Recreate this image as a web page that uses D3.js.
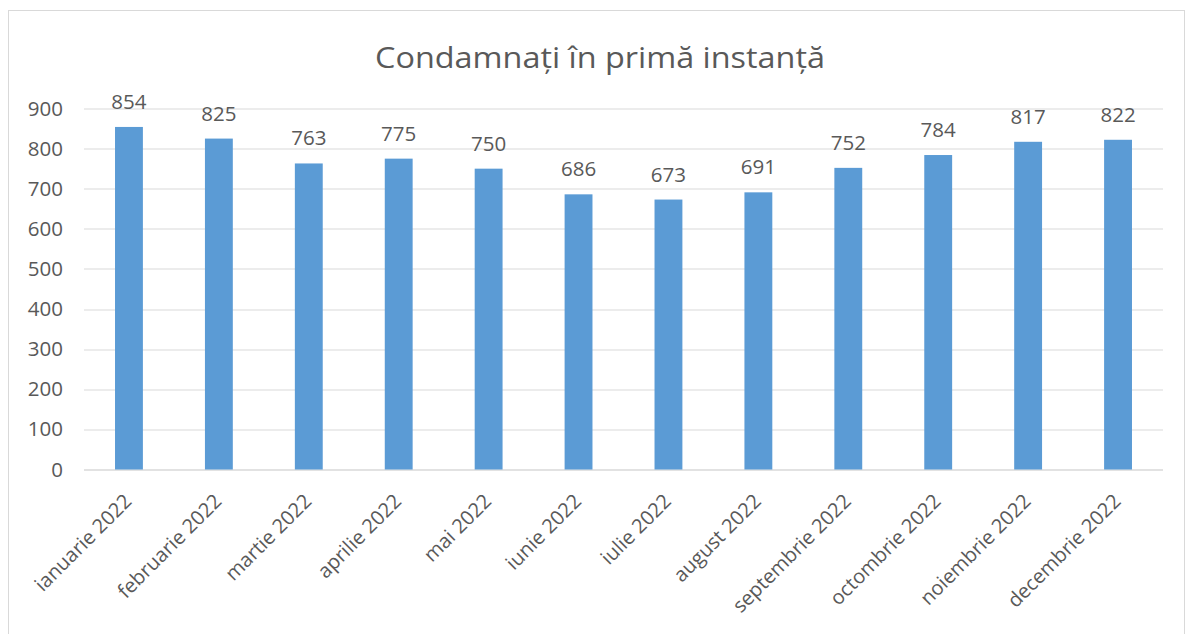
<!DOCTYPE html>
<html>
<head>
<meta charset="utf-8">
<script src="https://cdn.jsdelivr.net/npm/d3@7"></script>
<style>
	body { margin: 0; background: #fff; }
	text { font-family: 'Open Sans', 'Liberation Sans', Arial, sans-serif; fill: #595959; }
</style>
</head>
<body>
<div id="vis"></div>
<script>
var months = ['ianuarie 2022', 'februarie 2022', 'martie 2022', 'aprilie 2022', 'mai 2022', 'iunie 2022',
	'iulie 2022', 'august 2022', 'septembrie 2022', 'octombrie 2022', 'noiembrie 2022', 'decembrie 2022'];
var values = [854, 825, 763, 775, 750, 686, 673, 691, 752, 784, 817, 822];
var yTicks = [0, 100, 200, 300, 400, 500, 600, 700, 800, 900];
var title = 'Condamnați în primă instanță';

var width = 1192,
	height = 634;

var margin = {
	left: 84,
	right: 29,
	top: 108.5,
	bottom: 164.5
};

var drawWidth = width - margin.left - margin.right,
	drawHeight = height - margin.top - margin.bottom;

var svg = d3.select('#vis')
	.append('svg')
	.attr('width', width)
	.attr('height', height);

// chart frame
svg.append('rect')
	.attr('x', 8.5)
	.attr('y', 10.5)
	.attr('width', 1176)
	.attr('height', 640)
	.attr('fill', '#fff')
	.attr('stroke', '#d9d9d9');

svg.append('text')
	.attr('x', 600)
	.attr('y', 68)
	.attr('text-anchor', 'middle')
	.attr('font-size', 29)
	.attr('textLength', 450)
	.attr('lengthAdjust', 'spacingAndGlyphs')
	.text(title);

var g = svg.append('g')
	.attr('transform', 'translate(' + margin.left + ',' + margin.top + ')');

var x = d3.scaleBand()
	.domain(months)
	.range([0, drawWidth])
	.paddingInner(0.69)
	.paddingOuter(0.345);

var y = d3.scaleLinear()
	.domain([0, 900])
	.range([drawHeight, 0]);

// gridlines
g.append('g')
	.selectAll('line')
	.data(yTicks)
	.enter().append('line')
	.attr('x1', 0)
	.attr('x2', drawWidth)
	.attr('y1', function(d) { return Math.round(y(d)) + 0.5; })
	.attr('y2', function(d) { return Math.round(y(d)) + 0.5; })
	.attr('stroke', '#d9d9d9')
	.attr('stroke-width', function(d) { return d === 0 ? 1.5 : 1.2; });

var yAxis = g.append('g')
	.call(d3.axisLeft(y).tickValues(yTicks).tickSize(0).tickPadding(21));
yAxis.select('.domain').remove();
yAxis.selectAll('text')
	.attr('font-size', 20.5)
	.attr('fill', '#595959');

g.append('g')
	.selectAll('rect')
	.data(values)
	.enter().append('rect')
	.attr('x', function(d, i) { return x(months[i]); })
	.attr('y', function(d) { return y(d); })
	.attr('width', x.bandwidth())
	.attr('height', function(d) { return drawHeight - y(d); })
	.attr('fill', '#5b9bd5');

g.append('g')
	.selectAll('text')
	.data(values)
	.enter().append('text')
	.attr('x', function(d, i) { return x(months[i]) + x.bandwidth() / 2; })
	.attr('y', function(d) { return y(d) - 18; })
	.attr('text-anchor', 'middle')
	.attr('font-size', 20.5)
	.text(function(d) { return d; });

var xAxis = g.append('g')
	.attr('transform', 'translate(0,' + drawHeight + ')')
	.call(d3.axisBottom(x).tickSize(0).tickPadding(0));
xAxis.select('.domain').remove();
xAxis.selectAll('text')
	.attr('font-size', 20)
	.attr('fill', '#595959')
	.attr('text-anchor', 'end')
	.attr('dy', 0)
	.attr('transform', 'translate(4,33) rotate(-45)');
</script>
</body>
</html>
